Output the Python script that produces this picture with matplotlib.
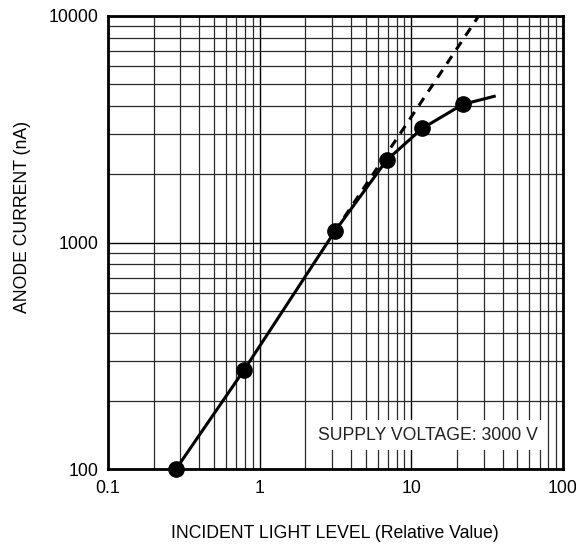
import matplotlib
matplotlib.use("Agg")
import matplotlib.pyplot as plt
from matplotlib.ticker import LogLocator, NullFormatter, FixedLocator, FixedFormatter

plt.rcParams['font.family'] = ['Liberation Sans', 'DejaVu Sans']

# Data
light_level = [0.281, 0.79, 3.13, 6.88, 11.8, 21.8]
anode_current = [100, 274, 1120, 2310, 3190, 4070]
curve_end_x = [21.8, 35.2]
curve_end_y = [4070, 4420]
linear_x = [3.13, 27.8]
linear_y = [1120, 10000]

x_ticks = [0.1, 1, 10, 100]
x_tick_labels = ["0.1", "1", "10", "100"]
y_ticks = [100, 1000, 10000]
y_tick_labels = ["100", "1000", "10000"]

FS = 12.7
W, H = 576, 546

fig = plt.figure(figsize=(W/100, H/100), dpi=100)
ax = fig.add_axes([108/W, 1-469/H, (563-108)/W, (469-16)/H])
ax.set_xscale('log')
ax.set_yscale('log')
ax.set_xlim(0.1, 100)
ax.set_ylim(100, 10000)

ax.xaxis.set_major_locator(FixedLocator(x_ticks))
ax.xaxis.set_major_formatter(FixedFormatter(x_tick_labels))
ax.yaxis.set_major_locator(FixedLocator(y_ticks))
ax.yaxis.set_major_formatter(FixedFormatter(y_tick_labels))
ax.xaxis.set_minor_locator(LogLocator(base=10, subs=range(2, 10)))
ax.yaxis.set_minor_locator(LogLocator(base=10, subs=range(2, 10)))
ax.xaxis.set_minor_formatter(NullFormatter())
ax.yaxis.set_minor_formatter(NullFormatter())
ax.tick_params(which='both', length=0, labelsize=FS)
ax.tick_params(axis='x', pad=8)
ax.tick_params(axis='y', pad=7)

ax.grid(which='major', color='black', lw=1.0, zorder=1)
ax.grid(which='minor', color='#2a2a2a', lw=0.9, zorder=1)
ax.set_axisbelow(True)

for s in ax.spines.values():
    s.set_linewidth(2)

ax.plot(linear_x, linear_y, color='black', lw=2.2, ls=(0, (3, 2.5)), zorder=3, clip_on=False)
ax.plot(light_level, anode_current, color='black', lw=2.2, marker='o', ms=11, zorder=4, clip_on=False)
ax.plot(curve_end_x, curve_end_y, color='black', lw=2.2, zorder=4)

ax.text(0.704, 0.075, "SUPPLY VOLTAGE: 3000 V", transform=ax.transAxes, fontsize=FS,
        ha='center', va='center', color='#222222',
        bbox=dict(facecolor='white', edgecolor='none', pad=5), zorder=5)

fig.text(335/W, 1-534/H, "INCIDENT LIGHT LEVEL (Relative Value)", fontsize=FS,
         ha='center', va='center')
fig.text(23/W, 1-217/H, "ANODE CURRENT (nA)", fontsize=FS, rotation=90,
         ha='center', va='center')

fig.savefig("out.png", dpi=100)
